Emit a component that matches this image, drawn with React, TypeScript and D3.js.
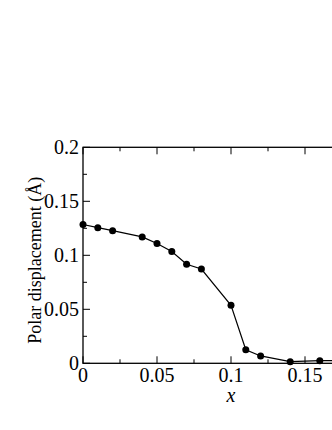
import React from "react";
import * as d3 from "d3";

const xValues = [0, 0.01, 0.02, 0.04, 0.05, 0.06, 0.07, 0.08, 0.1, 0.11, 0.12, 0.14, 0.16, 0.18];
const yValues = [0.1285, 0.1256, 0.1228, 0.117, 0.111, 0.1035, 0.0917, 0.0873, 0.0537, 0.0126, 0.0068, 0.0015, 0.0024, 0.0025];
const xTicks = [0, 0.05, 0.1, 0.15];
const xTickLabels = ["0", "0.05", "0.1", "0.15"];
const yTicks = [0, 0.05, 0.1, 0.15, 0.2];
const yTickLabels = ["0", "0.05", "0.1", "0.15", "0.2"];
const xMinor = [0.025, 0.075, 0.125, 0.175];
const yMinor = [0.025, 0.075, 0.125, 0.175];

export default function App() {
  const W = 332, H = 430;
  const x = d3.scaleLinear().domain([0, 0.2]).range([83, 379]);
  const y = d3.scaleLinear().domain([0, 0.2]).range([363.3, 147.3]);
  const pts = xValues.map((v, i) => [x(v), y(yValues[i])] as [number, number]);
  const line = d3.line()(pts) || "";
  const font = "'Liberation Serif', 'DejaVu Serif', serif";
  const x0 = x(0), x1 = x(0.2), yb = y(0), yt = y(0.2);
  return (
    <svg width={W} height={H} style={{ position: "absolute", left: 0, top: 0, background: "#fff" }}>
      <rect x={x0} y={yt} width={x1 - x0} height={yb - yt} fill="none" stroke="#000" strokeWidth={1.3} />
      {xTicks.map((t) => (
        <g key={"xt" + t}>
          <line x1={x(t)} x2={x(t)} y1={yb} y2={yb - 7} stroke="#000" />
          <line x1={x(t)} x2={x(t)} y1={yt} y2={yt + 7} stroke="#000" />
        </g>
      ))}
      {xMinor.map((t) => (
        <g key={"xm" + t}>
          <line x1={x(t)} x2={x(t)} y1={yb} y2={yb - 4} stroke="#000" />
          <line x1={x(t)} x2={x(t)} y1={yt} y2={yt + 4} stroke="#000" />
        </g>
      ))}
      {yTicks.map((t) => (
        <line key={"yt" + t} x1={x0} x2={x0 + 7} y1={y(t)} y2={y(t)} stroke="#000" />
      ))}
      {yMinor.map((t) => (
        <line key={"ym" + t} x1={x0} x2={x0 + 4} y1={y(t)} y2={y(t)} stroke="#000" />
      ))}
      {xTicks.map((t, i) => (
        <text key={"xl" + t} x={x(t)} y={yb + 19} textAnchor="middle" fontFamily={font} fontSize={20}>
          {xTickLabels[i]}
        </text>
      ))}
      {yTicks.map((t, i) => (
        <text key={"yl" + t} x={x0 - 4} y={y(t) + 7} textAnchor="end" fontFamily={font} fontSize={20}>
          {yTickLabels[i]}
        </text>
      ))}
      <text x={x(0.1)} y={yb + 39} textAnchor="middle" fontFamily={font} fontSize={20} fontStyle="italic">x</text>
      <text transform={`translate(41,${(yt + yb) / 2 + 5}) rotate(-90)`} textAnchor="middle" fontFamily={font} fontSize={18}>
        Polar displacement (Å)
      </text>
      <path d={line} fill="none" stroke="#000" strokeWidth={1.2} />
      {pts.map((p, i) => (
        <circle key={i} cx={p[0]} cy={p[1]} r={3.5} fill="#000" />
      ))}
    </svg>
  );
}
